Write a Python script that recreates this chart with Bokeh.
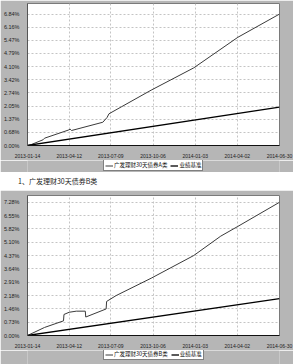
import pandas as pd
from bokeh.plotting import figure
from bokeh.models import FixedTicker, Legend, LegendItem, Div, Range1d
from bokeh.layouts import column
from bokeh.embed import file_html
from bokeh.resources import INLINE

# ---------------- data ----------------
start_date = "2013-01-14"
x_tick_labels = ["2013-01-14", "2013-04-12", "2013-07-09", "2013-10-06",
                 "2014-01-03", "2014-04-02", "2014-06-30"]

caption = "1、广发理财30天债券B类"
series1_name = "广发理财30天债券A类"
series2_name = "广发理财30天债券B类"
bench_name = "业绩基准"

# chart 1 (A class)
a_dates = ["2013-01-14", "2013-01-22", "2013-02-16", "2013-02-19", "2013-04-10",
           "2013-04-14", "2013-04-17", "2013-06-22", "2013-07-01", "2013-07-05",
           "2013-07-31", "2013-10-02", "2013-12-31", "2014-04-03", "2014-06-30"]
a_returns = [0.00, 0.05, 0.30, 0.38, 0.80,
             0.85, 0.78, 1.21, 1.46, 1.65,
             2.01, 2.88, 4.04, 5.63, 6.84]
bench1_dates = ["2013-01-14", "2014-06-30"]
bench1_returns = [0.00, 2.00]
y1_tick_values = [0.00, 0.684, 1.368, 2.052, 2.736, 3.42, 4.104, 4.788, 5.472, 6.156, 6.84]
y1_tick_labels = ["0.00%", "0.68%", "1.37%", "2.05%", "2.74%", "3.42%",
                  "4.10%", "4.79%", "5.47%", "6.16%", "6.84%"]

# chart 2 (B class)
b_dates = ["2013-01-14", "2013-02-19", "2013-03-31", "2013-04-01", "2013-04-12",
           "2013-04-27", "2013-05-16", "2013-05-17", "2013-06-29", "2013-06-30",
           "2013-07-20", "2013-10-02", "2013-12-31", "2014-02-26", "2014-04-03",
           "2014-06-30"]
b_returns = [0.00, 0.44, 0.80, 1.15, 1.27,
             1.33, 1.33, 1.01, 1.45, 1.86,
             2.18, 3.13, 4.37, 5.43, 5.96,
             7.28]
bench2_dates = ["2013-01-14", "2014-06-30"]
bench2_returns = [0.00, 2.02]
y2_tick_values = [0.00, 0.728, 1.456, 2.184, 2.912, 3.64, 4.368, 5.096, 5.824, 6.552, 7.28]
y2_tick_labels = ["0.00%", "0.73%", "1.46%", "2.18%", "2.91%", "3.64%",
                  "4.37%", "5.10%", "5.82%", "6.55%", "7.28%"]

# ---------------- helpers ----------------
t0 = pd.Timestamp(start_date)


def days(ds):
    return [(pd.Timestamp(d) - t0).days for d in ds]


x_tick_pos = days(x_tick_labels)

GRAY = "#b6b6b6"
LATIN = "Liberation Sans"
CJK = "Noto Sans CJK SC"
S_COLOR, S_WIDTH = "#3a3a3a", 1
B_COLOR, B_WIDTH = "#000000", 1.3


def make_chart(height, top, bottom, ymax, s_dates, s_vals,
               b_dates_, b_vals, yt_vals, yt_labels):
    p = figure(width=293, height=height, output_backend="svg", toolbar_location=None,
               x_range=Range1d(0, x_tick_pos[-1]), y_range=Range1d(0, ymax),
               min_border_left=26, min_border_right=14,
               min_border_top=top, min_border_bottom=bottom)
    p.border_fill_color = GRAY
    p.background_fill_color = "white"
    p.outline_line_color = "#7a7a7a"
    p.outline_line_width = 1

    p.xaxis.ticker = FixedTicker(ticks=x_tick_pos)
    p.xaxis.major_label_overrides = {pos: lab for pos, lab in zip(x_tick_pos, x_tick_labels)}
    p.yaxis.ticker = FixedTicker(ticks=yt_vals)
    p.yaxis.major_label_overrides = {v: l for v, l in zip(yt_vals, yt_labels)}

    for ax in (p.xaxis[0], p.yaxis[0]):
        ax.major_label_text_font = LATIN
        ax.major_label_text_color = "#222222"
        ax.major_tick_line_color = None
        ax.minor_tick_line_color = None
        ax.major_label_standoff = 2
    p.xaxis.major_label_text_font_size = "5px"
    p.yaxis.major_label_text_font_size = "5.5px"
    p.xaxis.axis_line_color = "#111111"
    p.yaxis.axis_line_color = "#555555"

    p.xgrid.grid_line_color = "#c4c4c4"
    p.xgrid.grid_line_dash = "2 2"
    p.ygrid.grid_line_color = "#c4c4c4"
    p.ygrid.grid_line_dash = "2 2"

    p.line(days(s_dates), s_vals, line_color=S_COLOR, line_width=S_WIDTH)
    p.line(days(b_dates_), b_vals, line_color=B_COLOR, line_width=B_WIDTH)
    return p


def make_legend(height, s_name, s_dates, s_vals, b_dates_, b_vals, x_off, y_off):
    # the series are drawn here only to feed the legend; the view range hides them
    q = figure(width=293, height=height, output_backend="svg", toolbar_location=None,
               x_range=Range1d(-2, -1), y_range=Range1d(-2, -1),
               min_border_left=0, min_border_right=0, min_border_top=0, min_border_bottom=0)
    q.axis.visible = False
    q.grid.visible = False
    q.outline_line_color = None
    q.background_fill_color = GRAY
    q.border_fill_color = GRAY
    r1 = q.line(days(s_dates), s_vals, line_color=S_COLOR, line_width=S_WIDTH)
    r2 = q.line(days(b_dates_), b_vals, line_color=B_COLOR, line_width=B_WIDTH)
    leg = Legend(items=[LegendItem(label=s_name, renderers=[r1]),
                        LegendItem(label=bench_name, renderers=[r2])],
                 orientation="horizontal", location=(x_off, y_off))
    leg.label_text_font = CJK
    leg.label_text_font_size = "5.5px"
    leg.label_text_color = "#111111"
    leg.label_height = 7
    leg.glyph_height = 7
    leg.glyph_width = 8
    leg.label_standoff = 1
    leg.spacing = 3
    leg.padding = 1
    leg.margin = 0
    leg.border_line_color = "#000000"
    leg.border_line_width = 1
    leg.background_fill_color = "white"
    leg.background_fill_alpha = 1
    q.add_layout(leg, "center")
    return q


p1 = make_chart(160, 3, 9, 7.39, a_dates, a_returns,
                bench1_dates, bench1_returns, y1_tick_values, y1_tick_labels)
l1 = make_legend(12, series1_name, a_dates, a_returns,
                 bench1_dates, bench1_returns, 76, 1)

cap = Div(text=caption, width=293, height=18, margin=(0, 0, 0, 0),
          styles={"font-family": CJK, "font-size": "7px", "color": "#222",
                  "line-height": "18px", "padding-left": "18px", "white-space": "nowrap"})

p2 = make_chart(160, 5, 11, 7.65, b_dates, b_returns,
                bench2_dates, bench2_returns, y2_tick_values, y2_tick_labels)
l2 = make_legend(14, series2_name, b_dates, b_returns,
                 bench2_dates, bench2_returns, 76, 4)

p = column(p1, l1, cap, p2, l2, spacing=0)

open("out.html", "w").write(file_html(p, INLINE))
